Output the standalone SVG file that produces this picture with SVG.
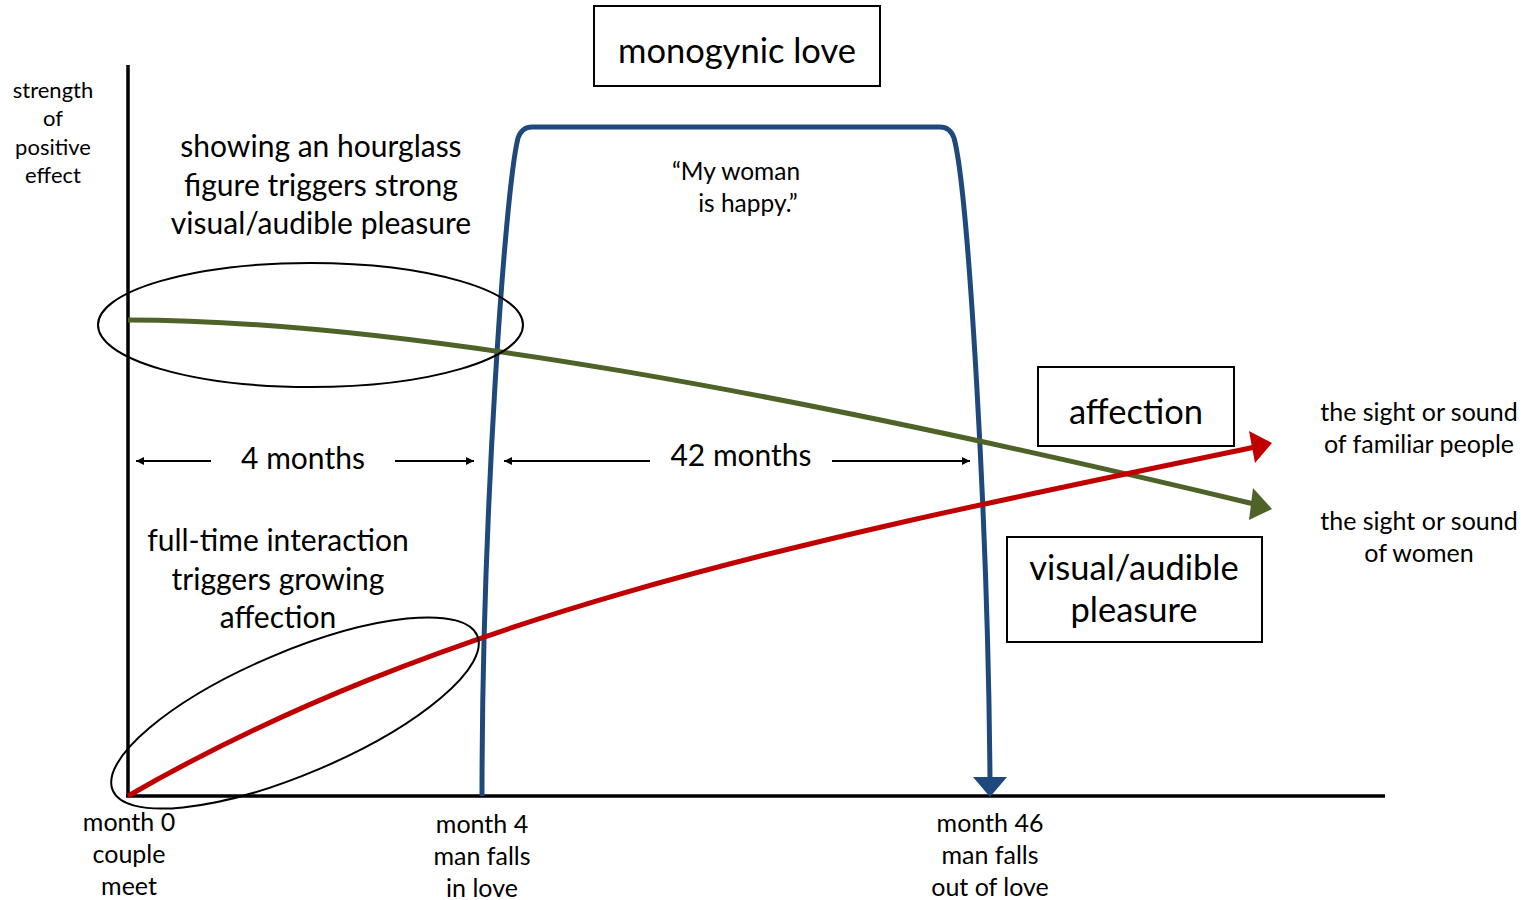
<svg xmlns="http://www.w3.org/2000/svg" width="1533" height="900" viewBox="0 0 1533 900">
  <style>
    text { font-family: Lato, "Open Sans", "Liberation Sans", sans-serif; fill: #000; text-anchor: middle; }
    .sm { font-size: 22px; }
    .qt { font-size: 24.5px; }
    .md { font-size: 25px; }
    .lg { font-size: 30px; }
    .xl { font-size: 34.5px; }
    .box { fill: #fff; stroke: #000; stroke-width: 2; }
    .axis { stroke: #000; stroke-width: 3.5; fill: none; }
    .span { stroke: #000; stroke-width: 2; fill: none; marker-end: url(#spanHead); }
    .ring { fill: none; stroke: #000; stroke-width: 2; }
  </style>
  <defs>
    <marker id="spanHead" viewBox="0 0 10 10" refX="10" refY="5" markerWidth="8" markerHeight="8" markerUnits="userSpaceOnUse" orient="auto">
      <path d="M0,0 L10,5 L0,10 z" fill="#000"/>
    </marker>
  </defs>

  <!-- axes -->
  <g id="axes">
    <line class="axis" x1="128" y1="65" x2="128" y2="797"/>
    <line class="axis" x1="126" y1="796" x2="1385" y2="796"/>
  </g>

  <!-- curves -->
  <g id="connectors">
    <!-- monogynic love -->
    <path d="M482,796 C482,520 505,190 518,138 Q522,127 532,127 L940,127 Q950,127 954,138 C968,190 988,520 990,780" fill="none" stroke="#1F497D" stroke-width="5"/>
    <path d="M973,777 L1007,777 L990,797 z" fill="#1F497D"/>
    <!-- sight or sound of women -->
    <path d="M128,320 C400,320 800,395 1254,504" fill="none" stroke="#4F6228" stroke-width="5"/>
    <path d="M1272,509 L1253,488 L1249,520 z" fill="#4F6228"/>
    <!-- sight or sound of familiar people -->
    <path d="M128,796 C458,605 850,532 1255,447" fill="none" stroke="#C00000" stroke-width="5"/>
    <path d="M1272,443 L1249,431 L1255,463 z" fill="#C00000"/>
    <!-- spans -->
    <line class="span" x1="211" y1="461" x2="136" y2="461"/>
    <line class="span" x1="395" y1="461" x2="474" y2="461"/>
    <line class="span" x1="650" y1="461" x2="504" y2="461"/>
    <line class="span" x1="832" y1="461" x2="970" y2="461"/>
  </g>

  <!-- highlight ellipses -->
  <g id="hourglass-ring">
    <ellipse class="ring" cx="310.5" cy="325" rx="212.5" ry="62"/>
  </g>
  <g id="interaction-ring">
    <ellipse class="ring" cx="295" cy="713" rx="198" ry="61" transform="rotate(-23 295 713)"/>
  </g>

  <!-- labels -->
  <g id="y-label" class="sm">
    <text x="53" y="98">strength</text>
    <text x="53" y="126">of</text>
    <text x="53" y="155">positive</text>
    <text x="53" y="183">effect</text>
  </g>

  <g id="monogynic-love">
    <rect class="box" x="594" y="6" width="286" height="80"/>
    <text class="xl" x="737" y="63">monogynic love</text>
  </g>

  <g id="affection">
    <rect class="box" x="1038" y="367" width="196" height="79"/>
    <text class="xl" x="1136" y="424">affection</text>
  </g>

  <g id="visual-audible-pleasure">
    <rect class="box" x="1007" y="537" width="255" height="105"/>
    <text class="xl" x="1134" y="580">visual/audible</text>
    <text class="xl" x="1134" y="622">pleasure</text>
  </g>

  <g id="hourglass-note" class="lg">
    <text x="321" y="157">showing an hourglass</text>
    <text x="321" y="196">figure triggers strong</text>
    <text x="321" y="234">visual/audible pleasure</text>
  </g>

  <g id="quote" class="qt">
    <text x="736" y="180">“My woman</text>
    <text x="748" y="212">is happy.”</text>
  </g>

  <g id="span-4" class="lg">
    <text x="303" y="469">4 months</text>
  </g>
  <g id="span-42" class="lg">
    <text x="741" y="466">42 months</text>
  </g>

  <g id="interaction-note" class="lg">
    <text x="278" y="551">full-time interaction</text>
    <text x="278" y="590">triggers growing</text>
    <text x="278" y="628">affection</text>
  </g>

  <g id="familiar-label" class="md">
    <text x="1419" y="421">the sight or sound</text>
    <text x="1419" y="453">of familiar people</text>
  </g>
  <g id="women-label" class="md">
    <text x="1419" y="530">the sight or sound</text>
    <text x="1419" y="562">of women</text>
  </g>

  <g id="month-0" class="md">
    <text x="129" y="831">month 0</text>
    <text x="129" y="863">couple</text>
    <text x="129" y="895">meet</text>
  </g>
  <g id="month-4" class="md">
    <text x="482" y="833">month 4</text>
    <text x="482" y="865">man falls</text>
    <text x="482" y="897">in love</text>
  </g>
  <g id="month-46" class="md">
    <text x="990" y="832">month 46</text>
    <text x="990" y="864">man falls</text>
    <text x="990" y="896">out of love</text>
  </g>
</svg>
